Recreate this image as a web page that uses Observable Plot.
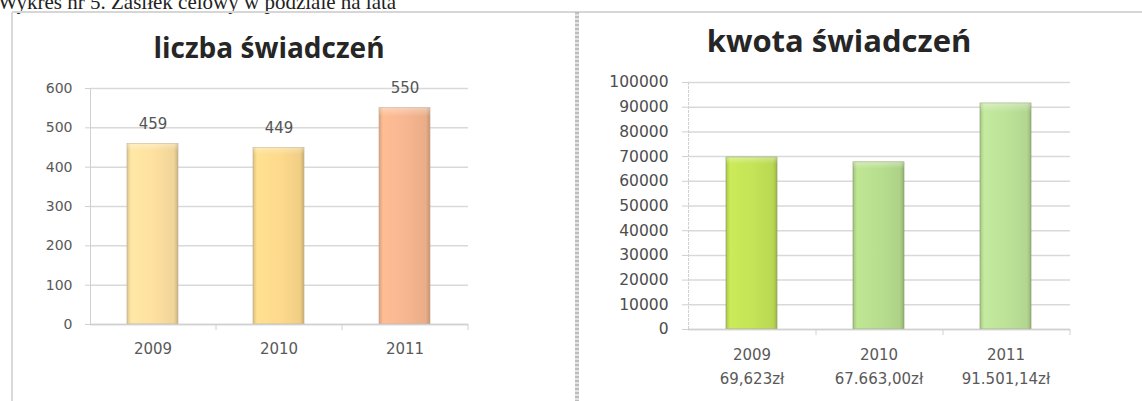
<!DOCTYPE html>
<html>
<head>
<meta charset="utf-8">
<script src="https://cdn.jsdelivr.net/npm/d3@7"></script>
<script src="https://cdn.jsdelivr.net/npm/@observablehq/plot@0.6"></script>
<style>
  html, body { margin: 0; padding: 0; background: #fff; }
  #wrap { position: relative; width: 1142px; height: 401px; overflow: hidden; background: #fff; }
  .caption { position: absolute; left: -2px; top: -10px; font: 21px "Liberation Serif", serif; color: #222; white-space: nowrap; }
  .topline { position: absolute; left: 12px; top: 11px; width: 1130px; height: 2px; background: #d6d6d6; }
  .leftline { position: absolute; left: 11px; top: 12px; width: 2px; height: 389px; background: #d9d9d9; }
  .sep { position: absolute; left: 575px; top: 12px; width: 4px; height: 389px; background: repeating-linear-gradient(#bdbdbd 0 2px, #e2e2e2 2px 4px); }
  .title { position: absolute; font-family: "Open Sans", sans-serif; font-weight: bold; color: #262626; white-space: nowrap; transform: translateX(-50%); }
  .plot { position: absolute; }
</style>
</head>
<body>
<div id="wrap">
  <div class="caption">Wykres nr 5. Zasiłek celowy w podziale na lata</div>
  <div class="topline"></div>
  <div class="leftline"></div>
  <div class="sep"></div>
  <div class="title" style="left:269px; top:28px; font-size:28px;">liczba świadczeń</div>
  <div class="title" style="left:839px; top:19px; font-size:31px;">kwota świadczeń</div>
  <div class="plot" id="left" style="left:13px; top:70px;"></div>
  <div class="plot" id="right" style="left:580px; top:70px;"></div>
</div>
<script>
// ---- data ----
const years = ["2009", "2010", "2011"];
const counts = [459, 449, 550];
const countColors = ["#fde0a0", "#fdd98c", "#f6b690"];
const amounts = [69623, 67663.00, 91501.14];
const amountLabels = ["69,623zł", "67.663,00zł", "91.501,14zł"];
const amountColors = ["#c4e356", "#b7de8e", "#bce298"];
const countTicks = [0, 100, 200, 300, 400, 500, 600];
const amountTicks = [0, 10000, 20000, 30000, 40000, 50000, 60000, 70000, 80000, 90000, 100000];

const leftData = years.map((y, i) => ({year: y, value: counts[i], color: countColors[i], id: "gl" + i}));
const rightData = years.map((y, i) => ({year: y, value: amounts[i], label: amountLabels[i], color: amountColors[i], id: "gr" + i}));

function gradientDefs(data) {
  return () => {
    const defs = d3.create("svg:defs");
    data.forEach(d => {
      const c = d3.color(d.color);
      const g = defs.append("linearGradient").attr("id", d.id).attr("x1", 0).attr("x2", 1).attr("y1", 0).attr("y2", 0);
      g.append("stop").attr("offset", "0%").attr("stop-color", c.darker(0.35));
      g.append("stop").attr("offset", "8%").attr("stop-color", c.brighter(0.1));
      g.append("stop").attr("offset", "55%").attr("stop-color", c);
      g.append("stop").attr("offset", "92%").attr("stop-color", c.darker(0.15));
      g.append("stop").attr("offset", "100%").attr("stop-color", c.darker(0.6));
      const v = defs.append("linearGradient").attr("id", d.id + "v").attr("x1", 0).attr("x2", 0).attr("y1", 0).attr("y2", 1);
      v.append("stop").attr("offset", "0%").attr("stop-color", "#fff").attr("stop-opacity", 0.35);
      v.append("stop").attr("offset", "4%").attr("stop-color", "#fff").attr("stop-opacity", 0);
      v.append("stop").attr("offset", "100%").attr("stop-color", "#fff").attr("stop-opacity", 0);
    });
    return defs.node();
  };
}

// ---- left chart ----
const leftPlot = Plot.plot({
  width: 560,
  height: 320,
  marginLeft: 77,
  marginRight: 105,
  marginTop: 18,
  marginBottom: 66,
  style: {fontFamily: "'DejaVu Sans', sans-serif", fontSize: "14px", color: "#595959", background: "transparent"},
  x: {type: "band", domain: years, paddingInner: 0.595, paddingOuter: 0.2975, label: null},
  y: {domain: [0, 600], label: null},
  marks: [
    gradientDefs(leftData),
    Plot.gridY(countTicks, {stroke: "#d9d9d9", strokeOpacity: 1, strokeWidth: 1.5}),
    Plot.axisY(countTicks, {tickSize: 5, tickPadding: 13, stroke: "#d0d0d0", fill: "#595959", fontSize: 14, label: null}),
    Plot.barY(leftData, {x: "year", y: "value", fill: d => `url(#${d.id})`, stroke: "#b9a98a", strokeWidth: 0.6}),
    Plot.barY(leftData, {x: "year", y: "value", fill: d => `url(#${d.id}v)`}),
    Plot.ruleY([0], {stroke: "#d0d0d0", strokeWidth: 1.5}),
    Plot.axisX({tickSize: 0, tickPadding: 19, fill: "#595959", fontSize: 15, label: null}),
    Plot.axisX({tickSize: 6, tickFormat: () => "", dx: 63, stroke: "#d0d0d0", label: null}),
    Plot.frame({anchor: "left", stroke: "#d0d0d0"}),
    Plot.text(leftData, {x: "year", y: "value", text: d => String(d.value), dy: -20, fill: "#555", fontSize: 15})
  ]
});
document.getElementById("left").appendChild(leftPlot);

// ---- right chart ----
const rightPlot = Plot.plot({
  width: 562,
  height: 325,
  marginLeft: 108,
  marginRight: 72,
  marginTop: 12,
  marginBottom: 66,
  style: {fontFamily: "'DejaVu Sans', sans-serif", fontSize: "15px", color: "#595959", background: "transparent"},
  x: {type: "band", domain: years, paddingInner: 0.595, paddingOuter: 0.2975, label: null},
  y: {domain: [0, 100000], label: null},
  marks: [
    gradientDefs(rightData),
    Plot.gridY(amountTicks, {stroke: "#d9d9d9", strokeOpacity: 1, strokeWidth: 1.5}),
    Plot.axisY(amountTicks, {tickSize: 6, tickPadding: 14, stroke: "#d0d0d0", fill: "#4d4d4d", fontSize: 15.5, tickFormat: d => String(d), label: null}),
    Plot.barY(rightData, {x: "year", y: "value", fill: d => `url(#${d.id})`, stroke: "#7f9460", strokeWidth: 0.6}),
    Plot.barY(rightData, {x: "year", y: "value", fill: d => `url(#${d.id}v)`}),
    Plot.ruleY([0], {stroke: "#d0d0d0", strokeWidth: 1.5}),
    Plot.axisX({tickSize: 0, tickPadding: 13, fill: "#595959", fontSize: 15, lineHeight: 1.6, label: null,
      tickFormat: (y) => y + "\n" + amountLabels[years.indexOf(y)]}),
    Plot.axisX({tickSize: 6, tickFormat: () => "", dx: 64, stroke: "#d0d0d0", label: null}),
    Plot.frame({anchor: "left", stroke: "#d0d0d0", strokeDasharray: "2,2"})
  ]
});
document.getElementById("right").appendChild(rightPlot);
</script>
</body>
</html>
